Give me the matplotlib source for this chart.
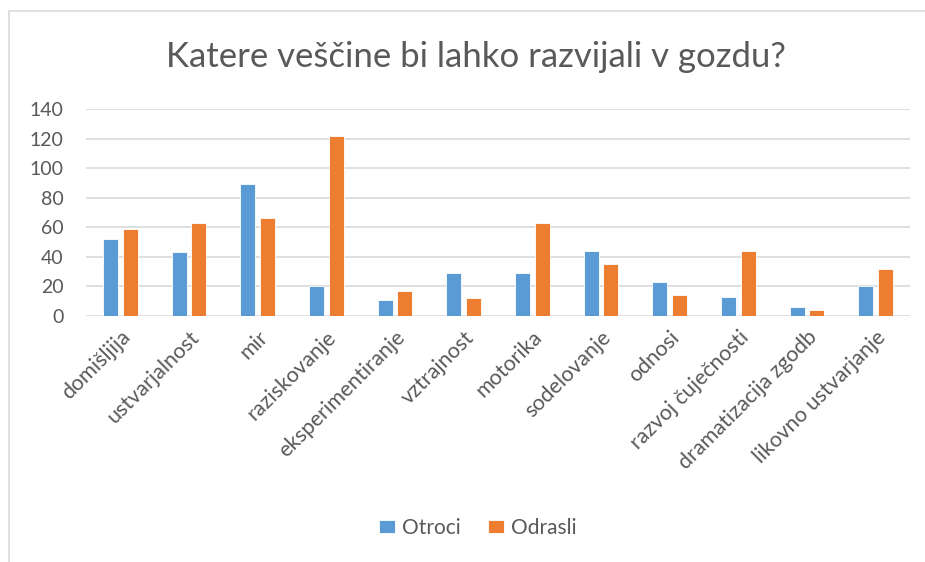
import numpy as np
import matplotlib
matplotlib.use("Agg")
import matplotlib.pyplot as plt
from matplotlib.patches import Rectangle

plt.rcParams['font.family'] = ['Lato', 'DejaVu Sans']

# data
categories = ["domišljija", "ustvarjalnost", "mir", "raziskovanje",
              "eksperimentiranje", "vztrajnost", "motorika", "sodelovanje",
              "odnosi", "razvoj čuječnosti", "dramatizacija zgodb",
              "likovno ustvarjanje"]
otroci = [52, 43, 89, 20, 11, 29, 29, 44, 23, 13, 6, 20]
odrasli = [59, 63, 66, 122, 17, 12, 63, 35, 14, 44, 4, 32]
series_names = ["Otroci", "Odrasli"]
yticks = [0, 20, 40, 60, 80, 100, 120, 140]

blue = "#5b9bd5"
orange = "#ed7d31"
textc = "#595959"
gridc = "#d9d9d9"

W, H = 925, 562
fig = plt.figure(figsize=(W / 100, H / 100), dpi=100)
ax = fig.add_axes([86 / W, 1 - 316 / H, (910 - 86) / W, (316 - 109) / H])

x = np.arange(len(categories))
bw = 0.22
ax.bar(x - 0.142, otroci, bw, color=blue, edgecolor="white", linewidth=0.6,
       label=series_names[0], zorder=3)
ax.bar(x + 0.142, odrasli, bw, color=orange, edgecolor="white", linewidth=0.6,
       label=series_names[1], zorder=3)

ax.set_xlim(-0.5, len(categories) - 0.5)
ax.set_ylim(0, 140)
ax.set_yticks(yticks)
ax.yaxis.grid(True, color=gridc, linewidth=1.2, zorder=0)
for s in ax.spines.values():
    s.set_visible(False)
ax.tick_params(axis="both", length=0, colors=textc)
ax.tick_params(axis="y", pad=16, labelsize=14)
ax.set_xticks(x)
ax.set_xticklabels(categories, rotation=45, ha="right", rotation_mode="anchor",
                   fontsize=15.5)
ax.tick_params(axis="x", pad=8)

fig.text(476 / W, 1 - 57 / H, "Katere veščine bi lahko razvijali v gozdu?",
         ha="center", va="center", fontsize=25, color=textc)

fig.legend(loc="center", bbox_to_anchor=(478 / W, 1 - 528 / H), ncol=2,
           frameon=False, fontsize=15, labelcolor=textc, handlelength=0.75,
           handleheight=0.55, handletextpad=0.35, columnspacing=1.3)

# outer chart frame (left and top edges visible)
fig.patches.append(Rectangle((8.5 / W, -0.1), 1.2, 1 - 10.5 / H + 0.1,
                             transform=fig.transFigure, fill=False,
                             edgecolor=gridc, linewidth=1.2))

fig.savefig("out.png", dpi=100)
